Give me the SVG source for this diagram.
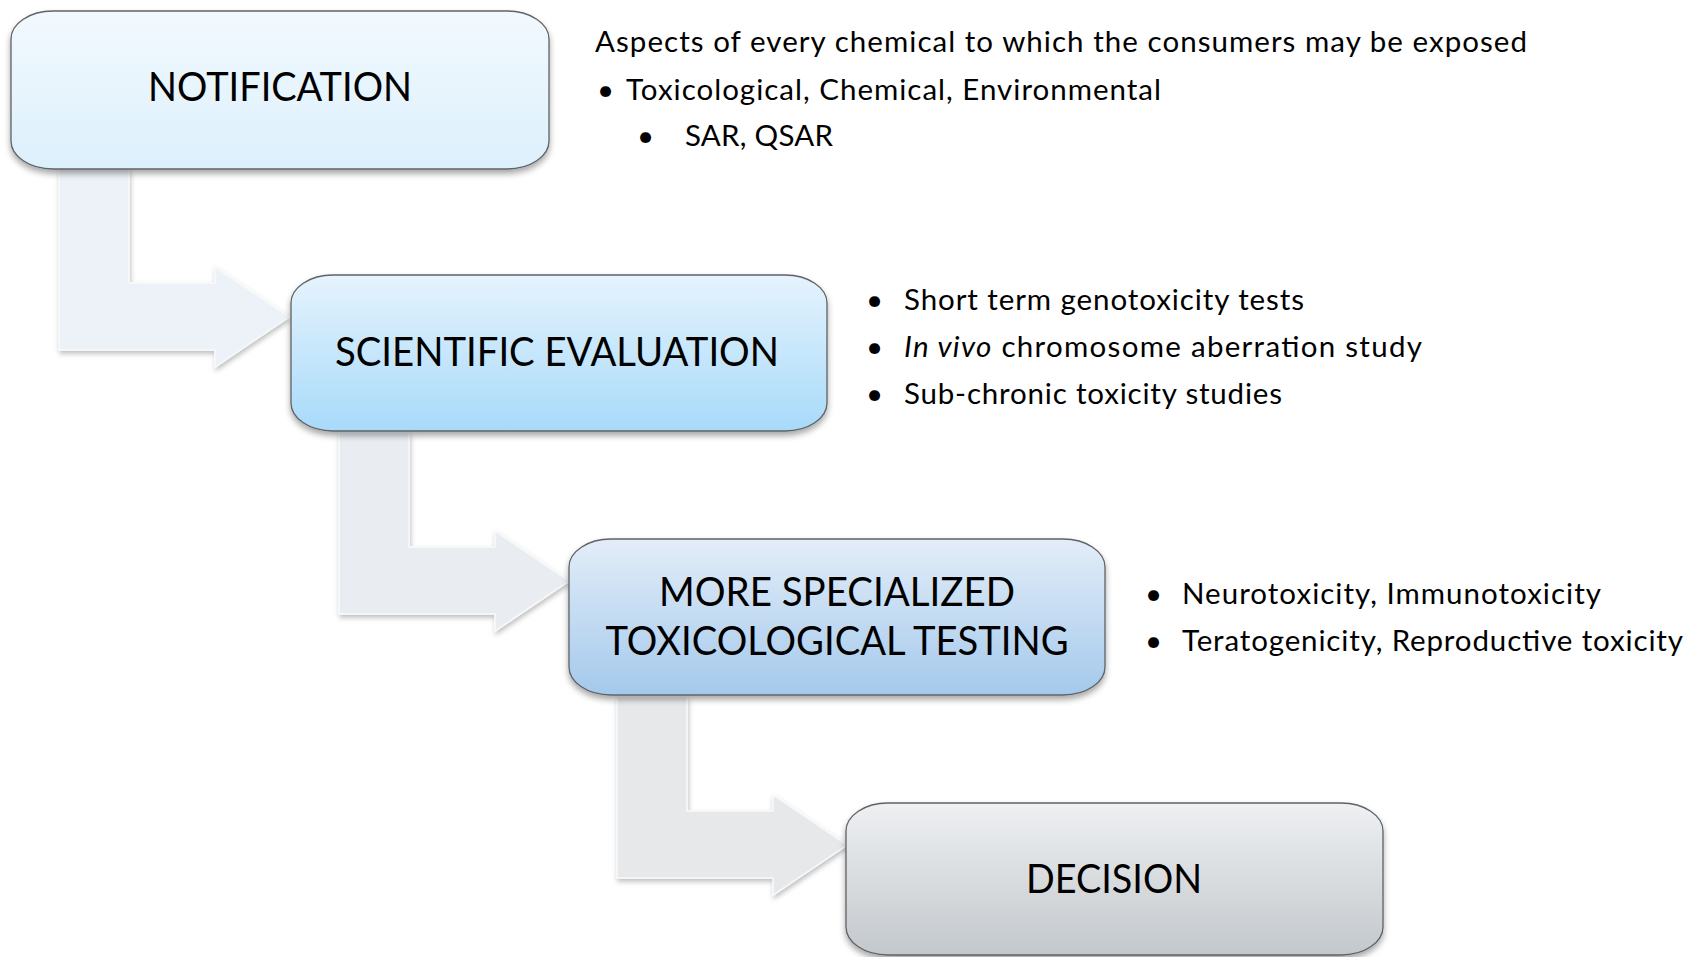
<svg xmlns="http://www.w3.org/2000/svg" width="1689" height="957" viewBox="0 0 1689 957">
<style>
.lbl{font-family:Lato,"Open Sans","Liberation Sans",sans-serif;font-size:40px;fill:#000;text-anchor:middle}
.side{font-family:Lato,"Open Sans","Liberation Sans",sans-serif;font-size:29.5px;fill:#000}
.box{stroke:#5f6366;stroke-width:1.3}
.arr{stroke:#f7f9fb;stroke-width:1.5}
</style>
<defs>
<filter id="sh" x="-10%" y="-10%" width="125%" height="130%">
<feDropShadow dx="0" dy="4" stdDeviation="3" flood-color="#000" flood-opacity="0.35"/>
</filter>
<filter id="ash" x="-10%" y="-10%" width="125%" height="130%">
<feDropShadow dx="1" dy="3" stdDeviation="2.5" flood-color="#000" flood-opacity="0.25"/>
</filter>
<linearGradient id="g1" x1="0" y1="0" x2="0" y2="1"><stop offset="0" stop-color="#f2f9fe"/><stop offset="1" stop-color="#dcf0fc"/></linearGradient>
<linearGradient id="g2" x1="0" y1="0" x2="0" y2="1"><stop offset="0" stop-color="#e5f3fd"/><stop offset="1" stop-color="#a8dafa"/></linearGradient>
<linearGradient id="g3" x1="0" y1="0" x2="0" y2="1"><stop offset="0" stop-color="#e3edf8"/><stop offset="1" stop-color="#a4c9ec"/></linearGradient>
<linearGradient id="g4" x1="0" y1="0" x2="0" y2="1"><stop offset="0" stop-color="#eef0f2"/><stop offset="1" stop-color="#c3c8cc"/></linearGradient>
<path id="bent" d="M59,169 H129 V283 H215 V267 L289,317 L215,367 V350 H59 Z"/>
</defs>
<rect width="1689" height="957" fill="#fff"/>
<g id="connectors">
<use href="#bent" class="arr" fill="#edf2f9" filter="url(#ash)"/>
<use href="#bent" class="arr" fill="#e9edf2" filter="url(#ash)" transform="translate(280,264)"/>
<use href="#bent" class="arr" fill="#e6e8ea" filter="url(#ash)" transform="translate(558,528)"/>
</g>
<g id="notification">
<rect class="box" x="11" y="11" width="538" height="158" rx="42" ry="28" fill="url(#g1)" filter="url(#sh)"/>
<text class="lbl" x="280" y="101" textLength="264" lengthAdjust="spacingAndGlyphs">NOTIFICATION</text>
</g>
<g id="scientific-evaluation">
<rect class="box" x="291" y="275" width="536" height="156" rx="42" ry="28" fill="url(#g2)" filter="url(#sh)"/>
<text class="lbl" x="557" y="366" textLength="444" lengthAdjust="spacingAndGlyphs">SCIENTIFIC EVALUATION</text>
</g>
<g id="specialized-testing">
<rect class="box" x="569" y="539" width="536" height="156" rx="42" ry="28" fill="url(#g3)" filter="url(#sh)"/>
<text class="lbl" x="837" y="606" textLength="356" lengthAdjust="spacingAndGlyphs">MORE SPECIALIZED</text>
<text class="lbl" x="837" y="655" textLength="463" lengthAdjust="spacingAndGlyphs">TOXICOLOGICAL TESTING</text>
</g>
<g id="decision">
<rect class="box" x="846" y="803" width="537" height="152" rx="42" ry="28" fill="url(#g4)" filter="url(#sh)"/>
<text class="lbl" x="1114" y="893" textLength="176" lengthAdjust="spacingAndGlyphs">DECISION</text>
</g>
<g id="notes-notification">
<text class="side" x="595" y="52" textLength="932">Aspects of every chemical to which the consumers may be exposed</text>
<text class="side" x="597" y="100">•</text>
<text class="side" x="626" y="100" textLength="535">Toxicological, Chemical, Environmental</text>
<text class="side" x="637" y="146">•</text>
<text class="side" x="685" y="146" textLength="148">SAR, QSAR</text>
</g>
<g id="notes-evaluation">
<text class="side" x="866" y="310">•</text>
<text class="side" x="904" y="310" textLength="400">Short term genotoxicity tests</text>
<text class="side" x="866" y="357">•</text>
<text class="side" x="904" y="357" textLength="518"><tspan font-style="italic">In vivo</tspan> chromosome aberration study</text>
<text class="side" x="866" y="404">•</text>
<text class="side" x="904" y="404" textLength="378">Sub-chronic toxicity studies</text>
</g>
<g id="notes-testing">
<text class="side" x="1145" y="604">•</text>
<text class="side" x="1182" y="604" textLength="419">Neurotoxicity, Immunotoxicity</text>
<text class="side" x="1145" y="651">•</text>
<text class="side" x="1182" y="651" textLength="501">Teratogenicity, Reproductive toxicity</text>
</g>
</svg>
